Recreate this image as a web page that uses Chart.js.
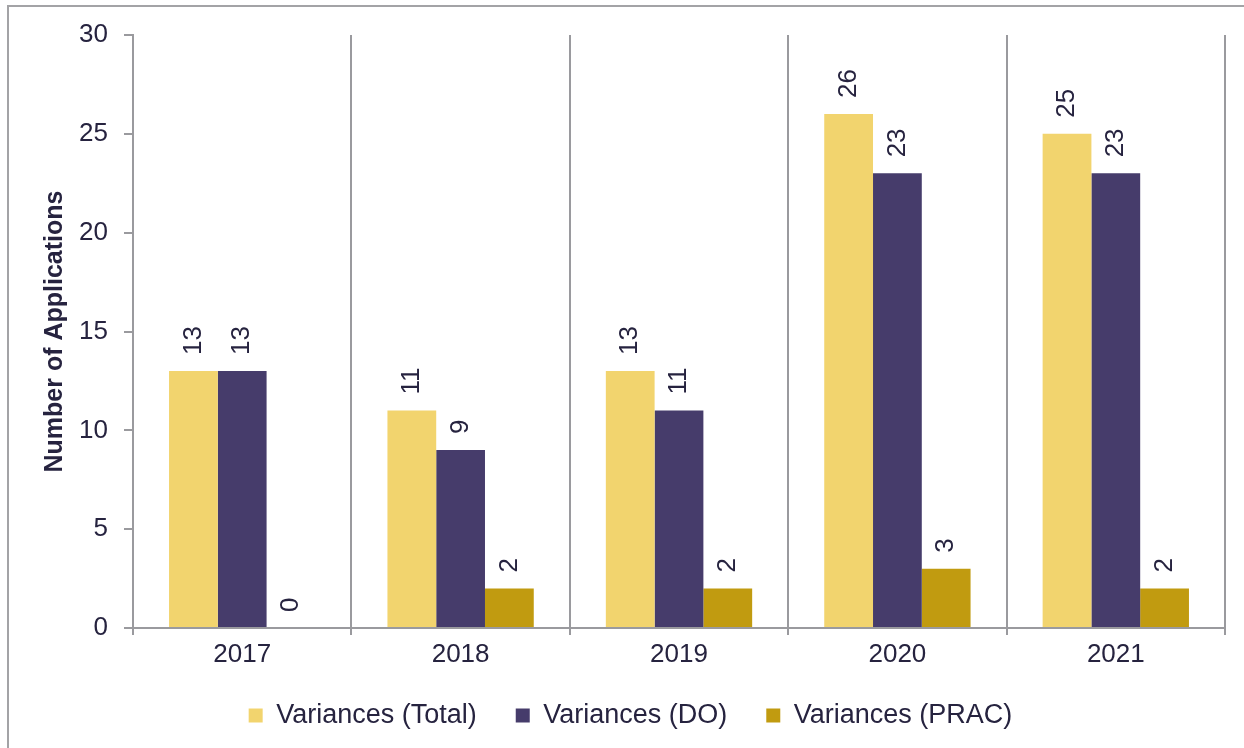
<!DOCTYPE html>
<html>
<head>
<meta charset="utf-8">
<script src="https://cdn.jsdelivr.net/npm/chart.js@4.4.1/dist/chart.umd.min.js"></script>
<style>
    html, body { margin: 0; padding: 0; background: #ffffff; }
    #wrap { position: relative; width: 1244px; height: 748px; overflow: hidden; }
    #frame {
        position: absolute; left: 7px; top: 5px; width: 1300px; height: 800px;
        border-left: 2px solid #a3a3a6; border-top: 2px solid #a3a3a6;
    }
    #applicationsChart { position: absolute; left: 0; top: 0; }
</style>
</head>
<body>
<div id="wrap">
    <div id="frame"></div>
    <canvas id="applicationsChart" width="1244" height="748"></canvas>
</div>
<script>
const years = ['2017', '2018', '2019', '2020', '2021'];
const variancesTotal = [13, 11, 13, 26, 25];
const variancesDO = [13, 9, 11, 23, 23];
const variancesPRAC = [0, 2, 2, 3, 2];

const seriesNames = ['Variances (Total)', 'Variances (DO)', 'Variances (PRAC)'];
const seriesColors = ['#f2d46e', '#463c6b', '#c19b10'];

const textColor = '#26233f';
const axisColor = '#9a9a9e';
const fontFamily = '"Liberation Sans", Arial, sans-serif';

// draws the rotated value above each bar
const barValueLabels = {
    id: 'barValueLabels',
    afterDatasetsDraw(chart) {
        const ctx = chart.ctx;
        ctx.save();
        ctx.font = '26px ' + fontFamily;
        ctx.fillStyle = textColor;
        ctx.textAlign = 'left';
        ctx.textBaseline = 'middle';
        chart.data.datasets.forEach((dataset, i) => {
            chart.getDatasetMeta(i).data.forEach((bar, index) => {
                ctx.save();
                ctx.translate(bar.x, bar.y - 16);
                ctx.rotate(-Math.PI / 2);
                ctx.fillText(String(dataset.data[index]), 0, 0);
                ctx.restore();
            });
        });
        ctx.restore();
    }
};

const ctx = document.getElementById('applicationsChart').getContext('2d');

const applicationsChart = new Chart(ctx, {
    type: 'bar',
    data: {
        labels: years,
        datasets: [
            { label: seriesNames[0], data: variancesTotal, backgroundColor: seriesColors[0] },
            { label: seriesNames[1], data: variancesDO, backgroundColor: seriesColors[1] },
            { label: seriesNames[2], data: variancesPRAC, backgroundColor: seriesColors[2] }
        ]
    },
    options: {
        responsive: false,
        animation: false,
        devicePixelRatio: 1,
        categoryPercentage: 0.67,
        barPercentage: 1.0,
        layout: {
            padding: { left: 36, right: 19, top: 35, bottom: 9 }
        },
        plugins: {
            tooltip: { enabled: false },
            legend: {
                position: 'bottom',
                labels: {
                    boxWidth: 14,
                    boxHeight: 14,
                    padding: 39,
                    color: textColor,
                    font: { family: fontFamily, size: 27 }
                }
            }
        },
        scales: {
            x: {
                offset: true,
                grid: {
                    offset: true,
                    drawOnChartArea: true,
                    color: axisColor,
                    lineWidth: 2,
                    tickLength: 7
                },
                border: { color: axisColor, width: 2 },
                ticks: {
                    color: textColor,
                    padding: 4,
                    font: { family: fontFamily, size: 26 }
                },
                afterFit: function(scale) {
                    scale.height = 35;
                }
            },
            y: {
                min: 0,
                max: 30,
                ticks: {
                    stepSize: 5,
                    color: textColor,
                    padding: 16,
                    font: { family: fontFamily, size: 26 }
                },
                grid: {
                    drawOnChartArea: false,
                    color: axisColor,
                    lineWidth: 2,
                    tickLength: 9
                },
                border: { color: axisColor, width: 2 },
                title: {
                    display: true,
                    text: 'Number of Applications',
                    color: textColor,
                    padding: { top: 4, bottom: 0 },
                    font: { family: fontFamily, size: 25, weight: 'bold' }
                },
                afterFit: function(scale) {
                    scale.width = 97;
                }
            }
        }
    },
    plugins: [barValueLabels]
});
</script>
</body>
</html>
